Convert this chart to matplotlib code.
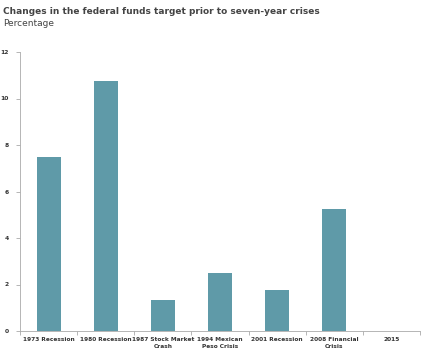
import numpy as np
import matplotlib.pyplot as plt

categories = ["1973 Recession", "1980 Recession", "1987 Stock Market\nCrash",
              "1994 Mexican\nPeso Crisis", "2001 Recession", "2008 Financial\nCrisis", "2015"]
values = [7.5, 10.75, 1.33, 2.5, 1.75, 5.25, 0]
yticks = [0, 2, 4, 6, 8, 10, 12]

fig = plt.figure(figsize=(4.25, 3.54), dpi=100)
ax = fig.add_axes([20/425, 1 - 331/354, 400/425, 279/354])

x = np.arange(len(categories))
ax.bar(x, values, width=0.42, color="#5f9aa8")

ax.set_xlim(-0.5, len(categories) - 0.5)
ax.set_ylim(0, 12)
ax.set_yticks(yticks)
ax.set_yticklabels([str(t) for t in yticks], fontsize=4.3, color="#333333", fontweight="semibold")
ax.set_xticks(x)
ax.set_xticklabels(categories, fontsize=4.2, color="#333333", linespacing=1.5, fontweight="semibold")
ax.tick_params(axis="x", length=0, pad=4)
ax.tick_params(axis="y", length=3, width=0.6, color="#aaaaaa", pad=5)
# boundary ticks between categories
ax.set_xticks(np.arange(len(categories) + 1) - 0.5, minor=True)
ax.tick_params(axis="x", which="minor", length=3, width=0.6, color="#aaaaaa")

for s in ["top", "right"]:
    ax.spines[s].set_visible(False)
for s in ["left", "bottom"]:
    ax.spines[s].set_color("#aaaaaa")
    ax.spines[s].set_linewidth(0.6)

fig.text(3/425, 1 - 11/354, "Changes in the federal funds target prior to seven-year crises",
         fontsize=6.5, fontweight="bold", color="#444444", va="center")
fig.text(3/425, 1 - 24/354, "Percentage", fontsize=6.5, color="#444444", va="center")

fig.savefig("out.png", dpi=100)
